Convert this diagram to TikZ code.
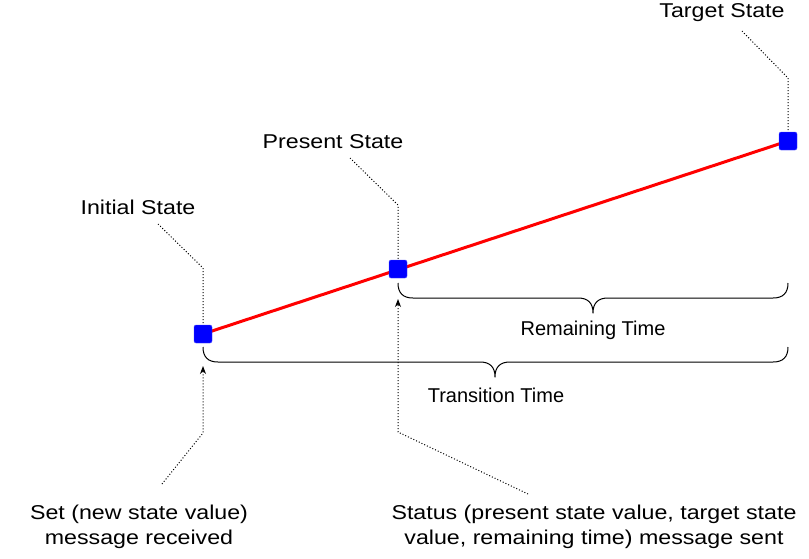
\documentclass[tikz,border=0pt]{standalone}
\usepackage{fontspec}
\setmainfont{Liberation Sans}
\newfontfamily\widesans[FakeStretch=1.16]{Liberation Sans}
\usetikzlibrary{arrows.meta}
\begin{document}
\begin{tikzpicture}[x=1pt,y=-1pt,
  lbl/.style={font=\fontsize{20}{25}\selectfont, align=center, inner sep=0pt},
  widelbl/.style={font=\widesans\fontsize{20}{25}\selectfont, align=center, inner sep=0pt},
  statebox/.style={fill=blue, draw=blue!70, rounded corners=2pt, minimum size=18pt, inner sep=0pt},
  leader/.style={line width=1pt, dash pattern=on 1pt off 2pt, line cap=butt},
  pointer/.style={leader, -{Stealth[length=8pt,width=6pt]}},
  bracebar/.style={line width=1pt, line join=round}]
\useasboundingbox (0,0) rectangle (809,558);

% state markers and the transition line
\coordinate (i) at (203,334);
\coordinate (p) at (398,269);
\coordinate (t) at (788,141);
\draw[red, line width=3pt] (i) -- (t);
\node[statebox] (ini) at (i) {};
\node[statebox] (pre) at (p) {};
\node[statebox] (tgt) at (t) {};

% labels
\node[widelbl] (lini) at (138,207) {Initial State};
\node[widelbl] (lpre) at (333,142) {Present State};
\node[widelbl] (ltgt) at (722,13) {Target State};
\node[lbl] (lrem) at (593,330) {Remaining Time};
\node[lbl] (ltra) at (496,395) {Transition Time};
\node[widelbl] (lset) at (139,527) {Set (new state value)\\message received};
\node[widelbl] (lsta) at (594,527) {Status (present state value, target state\\value, remaining time) message sent};

% leaders from the state labels to the markers
\coordinate (kini) at (203,268);
\coordinate (kpre) at (398,205);
\coordinate (ktgt) at (788,78);
\draw[leader] (158,224) -- (kini) -- (ini.north);
\draw[leader] (350,158) -- (kpre) -- (pre.north);
\draw[leader] (742,31) -- (ktgt) -- (tgt.north);

% pointers from the messages up to the time axis
\coordinate (kset) at (203,433);
\coordinate (ksta) at (398,432);
\coordinate (aset) at (203,366);
\coordinate (asta) at (398,299);
\draw[pointer] (162,484) -- (kset) -- (aset);
\draw[pointer] (528,494) -- (ksta) -- (asta);

% curly braces
\draw[bracebar] (398,283) .. controls (398,293) and (403,298) .. (413,298)
  -- (578,298) .. controls (588,298) and (593,303) .. (593,313)
  .. controls (593,303) and (598,298) .. (608,298)
  -- (773,298) .. controls (783,298) and (788,293) .. (788,283);
\draw[bracebar] (203,347) .. controls (203,357) and (208,362) .. (218,362)
  -- (480,362) .. controls (490,362) and (495,367) .. (495,377)
  .. controls (495,367) and (500,362) .. (510,362)
  -- (773,362) .. controls (783,362) and (788,357) .. (788,347);
\end{tikzpicture}
\end{document}
